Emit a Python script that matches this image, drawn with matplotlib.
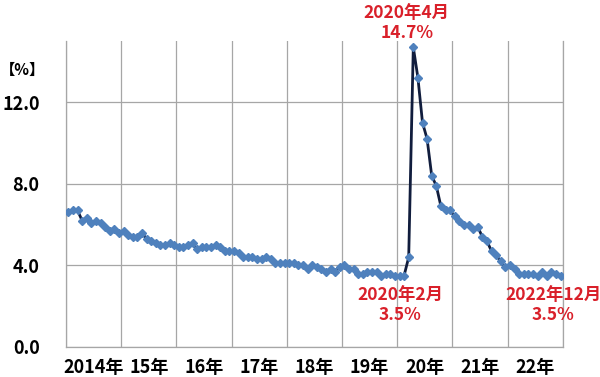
import numpy as np
import matplotlib
matplotlib.use("Agg")
import matplotlib.pyplot as plt

plt.rcParams['font.family'] = ['Noto Sans CJK JP', 'DejaVu Sans']

# monthly unemployment rate (%), Jan 2014 - Dec 2022
rate_2014 = [6.6, 6.7, 6.7, 6.2, 6.3, 6.1, 6.2, 6.1, 5.9, 5.7, 5.8, 5.6]
rate_2015 = [5.7, 5.5, 5.4, 5.4, 5.6, 5.3, 5.2, 5.1, 5.0, 5.0, 5.1, 5.0]
rate_2016 = [4.9, 4.9, 5.0, 5.1, 4.8, 4.9, 4.9, 4.9, 5.0, 4.9, 4.7, 4.7]
rate_2017 = [4.7, 4.6, 4.4, 4.4, 4.4, 4.3, 4.3, 4.4, 4.3, 4.1, 4.1, 4.1]
rate_2018 = [4.1, 4.1, 4.0, 4.0, 3.8, 4.0, 3.9, 3.8, 3.7, 3.8, 3.7, 3.9]
rate_2019 = [4.0, 3.8, 3.8, 3.6, 3.6, 3.7, 3.7, 3.7, 3.5, 3.6, 3.6, 3.5]
rate_2020 = [3.5, 3.5, 4.4, 14.7, 13.2, 11.0, 10.2, 8.4, 7.9, 6.9, 6.7, 6.7]
rate_2021 = [6.4, 6.2, 6.0, 6.0, 5.8, 5.9, 5.4, 5.2, 4.7, 4.5, 4.2, 3.9]
rate_2022 = [4.0, 3.8, 3.6, 3.6, 3.6, 3.6, 3.5, 3.7, 3.5, 3.7, 3.6, 3.5]

years = ['2014年', '15年', '16年', '17年', '18年', '19年', '20年', '21年', '22年']
y_ticks = [0, 4, 8, 12]

rates = (rate_2014 + rate_2015 + rate_2016 + rate_2017 + rate_2018
         + rate_2019 + rate_2020 + rate_2021 + rate_2022)
months = np.arange(len(rates))

fig = plt.figure(figsize=(6, 3.77), dpi=100)
ax = fig.add_axes([0.11, 0.0796, 0.828, 0.8116])

grid_c = '#a6a6a6'
ax.plot(months, rates, color='#111d3d', lw=2.0, marker='D', ms=4,
        mfc='#4f81bd', mec='#4f81bd', zorder=3)

ax.set_xlim(-0.5, len(rates) - 0.5)
ax.set_ylim(0, 15)

# year gridlines and centred year labels
ax.set_xticks(np.arange(-0.5, len(rates), 12))
ax.set_xticklabels([])
ax.set_xticks(np.arange(5.5, len(rates), 12), minor=True)
ax.set_xticklabels(years, minor=True, fontsize=13, fontweight='bold')
ax.tick_params(axis='x', which='both', length=0, pad=8)

ax.set_yticks(y_ticks)
ax.set_yticklabels([f'{v:.1f}' for v in y_ticks], fontsize=13, fontweight='bold')
ax.tick_params(axis='y', length=0, pad=19)

ax.grid(True, which='major', color=grid_c, lw=0.9)
for s in ['left', 'bottom', 'right']:
    ax.spines[s].set_color(grid_c)
    ax.spines[s].set_linewidth(0.9)
ax.spines['top'].set_visible(False)

fig.text(22 / 600, 1 - 70 / 377, '【%】', fontsize=11, fontweight='bold',
         ha='center', va='center')

red = '#d9202a'
ax.text(73.6, 15.9, '2020年4月\n14.7%', color=red, fontsize=12.5, fontweight='bold',
        ha='center', va='center', linespacing=1.15, clip_on=False)
ax.text(72.1, 2.06, '2020年2月\n3.5%', color=red, fontsize=12.5, fontweight='bold',
        ha='center', va='center', linespacing=1.15)
ax.text(105.4, 2.06, '2022年12月\n3.5%', color=red, fontsize=12.5, fontweight='bold',
        ha='center', va='center', linespacing=1.15, clip_on=False)

fig.savefig('out.png', dpi=100)
